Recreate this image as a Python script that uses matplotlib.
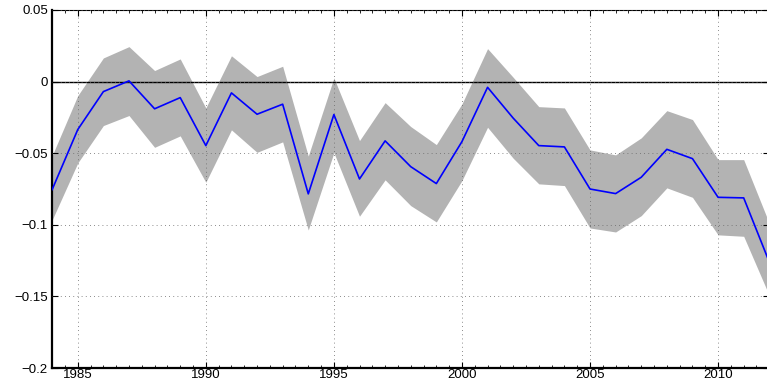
import numpy as np
import matplotlib.pyplot as plt
from matplotlib.ticker import MultipleLocator, FuncFormatter

# Years and estimate with its band
years = np.arange(1984, 2013)
mean = [-0.0754, -0.0335, -0.0070, 0.0005, -0.0190, -0.0112, -0.0447, -0.0079,
        -0.0228, -0.0158, -0.0784, -0.0230, -0.0680, -0.0414, -0.0594, -0.0712,
        -0.0419, -0.0040, -0.0255, -0.0447, -0.0456, -0.0750, -0.0782, -0.0668,
        -0.0473, -0.0538, -0.0808, -0.0812, -0.1260]
upper = [-0.0517, -0.0098, 0.0165, 0.0244, 0.0077, 0.0158, -0.0184, 0.0180,
         0.0035, 0.0107, -0.0520, 0.0026, -0.0412, -0.0147, -0.0314, -0.0440,
         -0.0156, 0.0230, 0.0030, -0.0175, -0.0184, -0.0477, -0.0512, -0.0393,
         -0.0203, -0.0265, -0.0545, -0.0545, -0.0990]
lower = [-0.0966, -0.0568, -0.0307, -0.0237, -0.0459, -0.0379, -0.0703, -0.0337,
         -0.0494, -0.0421, -0.1036, -0.0496, -0.0940, -0.0686, -0.0866, -0.0980,
         -0.0691, -0.0319, -0.0535, -0.0714, -0.0726, -0.1022, -0.1050, -0.0936,
         -0.0742, -0.0808, -0.1070, -0.1080, -0.1494]

plt.rcParams['font.family'] = ['Liberation Sans', 'DejaVu Sans']

fig = plt.figure(figsize=(7.67, 3.83), dpi=100)
ax = fig.add_axes([0.068, 0.039, 0.935, 0.935])

ax.fill_between(years, lower, upper, color='#b3b3b3', linewidth=0, zorder=1)
ax.plot(years, mean, color='blue', linewidth=1.2, zorder=3)
ax.axhline(0, color='black', linewidth=1.0, zorder=2)

ax.set_xlim(1984, 2012)
ax.set_ylim(-0.2, 0.05)
ax.xaxis.set_major_locator(MultipleLocator(5))
ax.xaxis.set_minor_locator(MultipleLocator(0.5))
ax.yaxis.set_major_locator(MultipleLocator(0.05))
ax.yaxis.set_major_formatter(FuncFormatter(
    lambda v, p: '0' if abs(v) < 1e-9 else ('%g' % v).replace('-', '\u2212')))

ax.grid(True, which='major', color='#666666', linestyle=(0, (1, 4)), linewidth=0.6)
ax.set_axisbelow(False)

ax.tick_params(which='both', direction='in', top=True, right=True, labelsize=9.5)
ax.tick_params(which='major', length=4, width=0.8)
ax.tick_params(which='minor', length=2, width=0.6)
ax.tick_params(axis='x', pad=1)
ax.tick_params(axis='y', pad=3)
for s in ['left', 'bottom']:
    ax.spines[s].set_linewidth(1.6)
ax.spines['top'].set_linewidth(0.8)

fig.savefig('out.png', dpi=100)
